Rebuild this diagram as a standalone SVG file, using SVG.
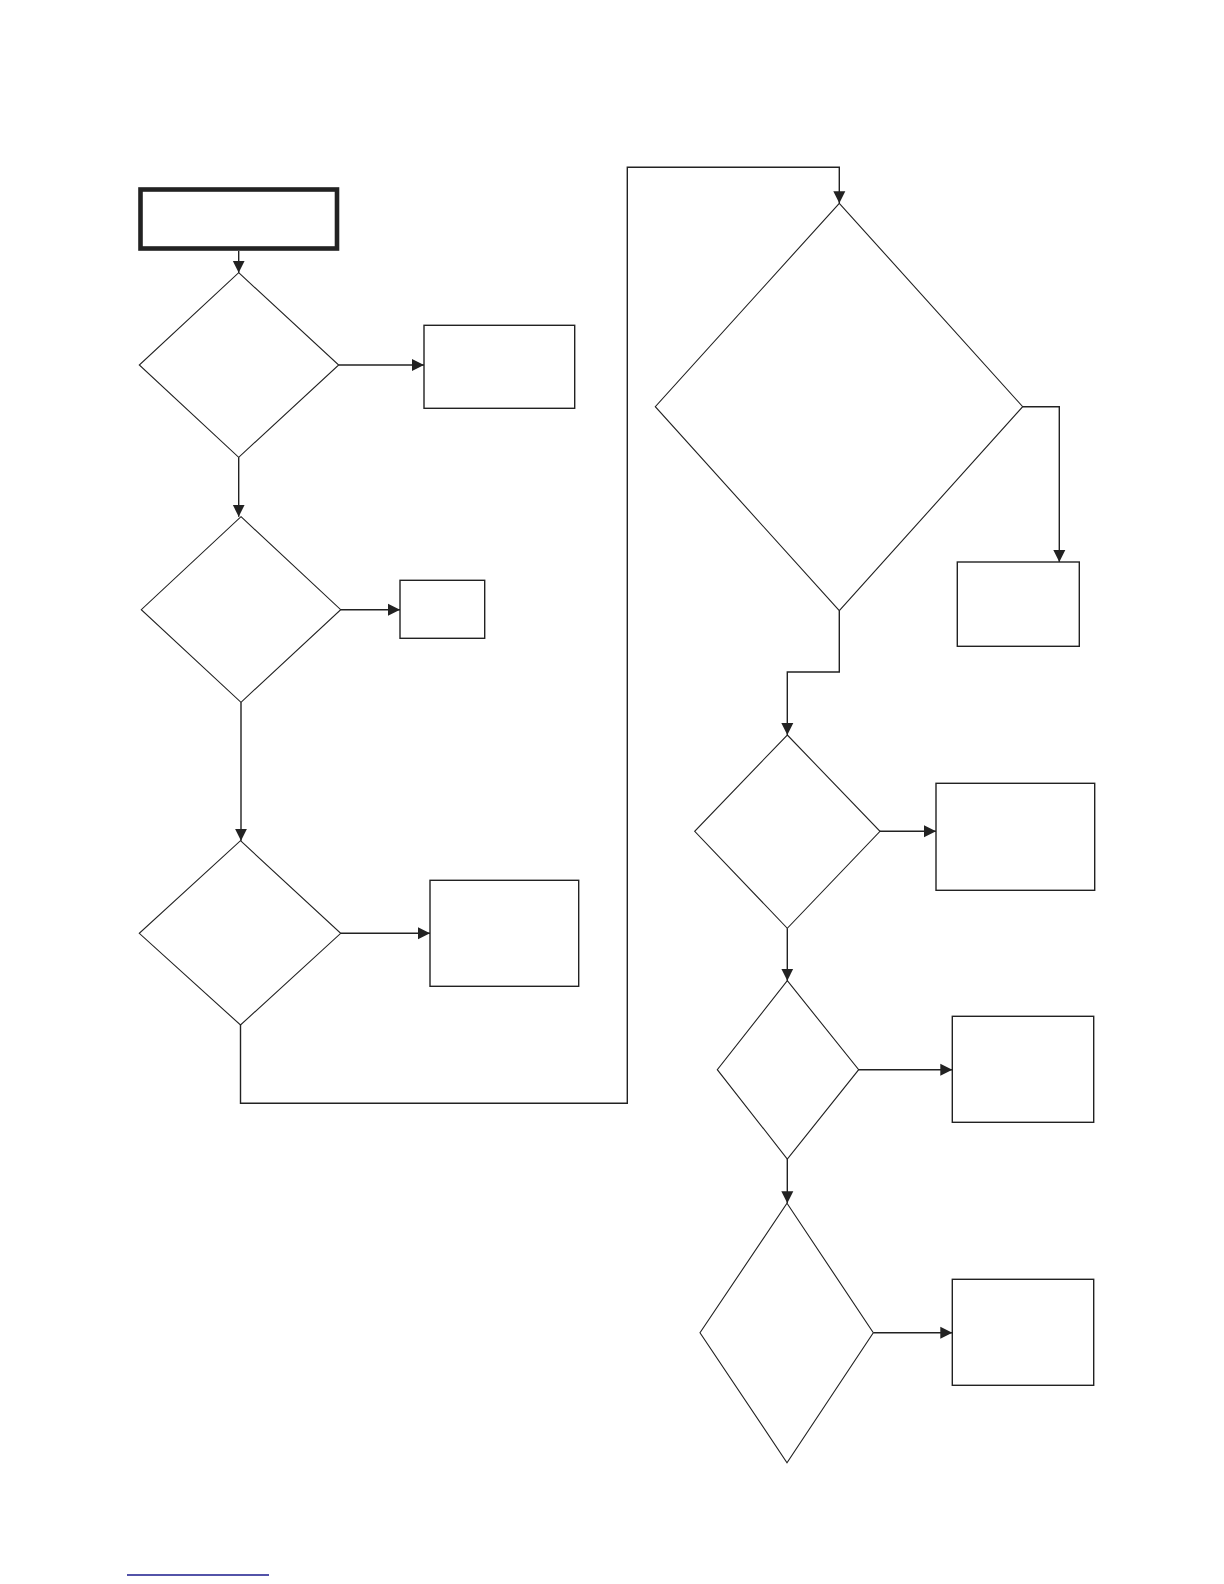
<svg xmlns="http://www.w3.org/2000/svg" width="1224" height="1584" viewBox="0 0 1224 1584">
<style>
.bg{fill:#fff}
.dia{fill:none;stroke:#222;stroke-width:1.1}
.box{fill:none;stroke:#222;stroke-width:1.4}
.start{fill:none;stroke:#222;stroke-width:4.6}
.con{fill:none;stroke:#222;stroke-width:1.4}
</style>
<defs>
<marker id="ah" markerUnits="userSpaceOnUse" markerWidth="13" markerHeight="13" refX="12" refY="6.5" orient="auto">
<path d="M0,0.5 L12,6.5 L0,12.5 Z" fill="#222"/>
</marker>
</defs>
<rect class="bg" x="0" y="0" width="1224" height="1584"/>
<g id="start"><rect class="start" x="140.5" y="189.5" width="196.5" height="59"/></g>
<g id="d1"><polygon class="dia" points="238.7,272.7 338.7,365 238.7,457.3 139.3,365"/></g>
<g id="b1"><rect class="box" x="424" y="325.3" width="150.7" height="83"/></g>
<g id="d2"><polygon class="dia" points="241,516.7 340.7,609.7 241,702.3 141.3,609.7"/></g>
<g id="b2"><rect class="box" x="400" y="580.3" width="84.7" height="58"/></g>
<g id="d3"><polygon class="dia" points="240.5,840.7 340.7,933.3 240.5,1025 139.3,933.3"/></g>
<g id="b3"><rect class="box" x="430" y="880.3" width="148.7" height="106"/></g>
<g id="d4"><polygon class="dia" points="839.3,203.3 1022.7,406.7 839.3,610.7 655.3,406.7"/></g>
<g id="b4"><rect class="box" x="957.3" y="562" width="122" height="84.3"/></g>
<g id="d5"><polygon class="dia" points="787.3,735 880,831.3 787.3,928.3 694.7,831.3"/></g>
<g id="b5"><rect class="box" x="936" y="783.3" width="158.7" height="107"/></g>
<g id="d6"><polygon class="dia" points="787.3,980.7 858.7,1069.7 787.3,1159 717.3,1069.7"/></g>
<g id="b6"><rect class="box" x="952.3" y="1016.3" width="141.4" height="106"/></g>
<g id="d7"><polygon class="dia" points="787,1203.3 873.3,1332.7 787,1462.7 700,1332.7"/></g>
<g id="b7"><rect class="box" x="952.3" y="1279.3" width="141.4" height="106"/></g>
<g id="connectors">
<path class="con" d="M238.7,251 V272.7" marker-end="url(#ah)"/>
<path class="con" d="M338.7,365 H424" marker-end="url(#ah)"/>
<path class="con" d="M238.7,457.3 V516.7" marker-end="url(#ah)"/>
<path class="con" d="M340.7,609.7 H400" marker-end="url(#ah)"/>
<path class="con" d="M241,702.3 V840.7" marker-end="url(#ah)"/>
<path class="con" d="M340.7,933.3 H430" marker-end="url(#ah)"/>
<path class="con" d="M240.5,1025 V1103.3 H627.3 V167.3 H839.3 V203.3" marker-end="url(#ah)"/>
<path class="con" d="M1022.7,406.7 H1059.3 V562" marker-end="url(#ah)"/>
<path class="con" d="M839.3,610.7 V672 H787.3 V735" marker-end="url(#ah)"/>
<path class="con" d="M880,831.3 H936" marker-end="url(#ah)"/>
<path class="con" d="M787.3,928.3 V980.7" marker-end="url(#ah)"/>
<path class="con" d="M858.7,1069.7 H952.3" marker-end="url(#ah)"/>
<path class="con" d="M787.3,1159 V1203.3" marker-end="url(#ah)"/>
<path class="con" d="M873.3,1332.7 H952.3" marker-end="url(#ah)"/>
</g>
<line x1="127" y1="1575" x2="269" y2="1575" stroke="#1a1a8c" stroke-width="1.6"/>
</svg>
